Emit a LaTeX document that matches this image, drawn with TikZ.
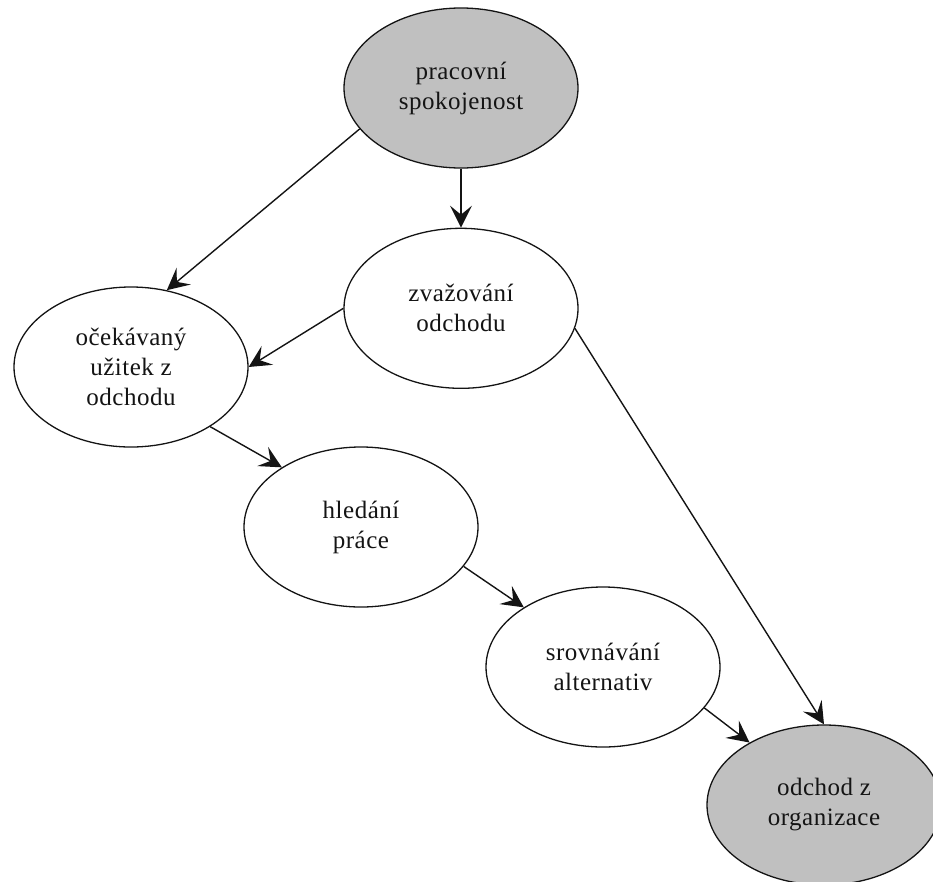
\documentclass[tikz,border=0pt]{standalone}
\usepackage{fontspec}
\setmainfont{Liberation Serif}[LetterSpace=2]
\usepackage{tikz}
\usetikzlibrary{positioning,arrows.meta,shapes.geometric}
\definecolor{GrayFill}{RGB}{192,192,192}
\definecolor{EdgeText}{RGB}{20,20,20}

\begin{document}
\begin{tikzpicture}[
    x=1pt, y=-1pt,
    factor/.style={ellipse, draw=EdgeText, line width=1.3pt, fill=white,
        minimum width=234pt, minimum height=160pt, inner sep=0pt, align=center,
        font=\fontsize{25}{30}\selectfont, text=EdgeText},
    outcome/.style={factor, fill=GrayFill},
    link/.style={draw=EdgeText, line width=1.4pt,
        -{Stealth[length=22pt, width=22pt, inset=9pt]}},
]
\useasboundingbox (0,0) rectangle (933,881);
% nodes
\node[outcome] (spok) at (461,88) {pracovní\\spokojenost};
\node[factor, below=59pt of spok] (zvaz) {zvažování\\odchodu};
\node[factor] (uzit) at (131,367) {očekávaný\\užitek z\\odchodu};
\node[factor] (hled) at (361,527) {hledání\\práce};
\node[factor] (srov) at (603,667) {srovnávání\\alternativ};
\node[outcome] (odch) at (824,805) {odchod z\\organizace};
% arrows
\draw[link] (spok.202) -- (uzit.65);
\draw[link] (spok.south) -- (zvaz.north);
\draw[link] (zvaz.west) -- (uzit.east);
\draw[link] (zvaz.-10) -- (odch.north);
\draw[link] (uzit.-37) -- (hled.143);
\draw[link] (hled.-21) -- (srov.143);
\draw[link] (srov.-22) -- (odch.140);
\end{tikzpicture}
\end{document}
